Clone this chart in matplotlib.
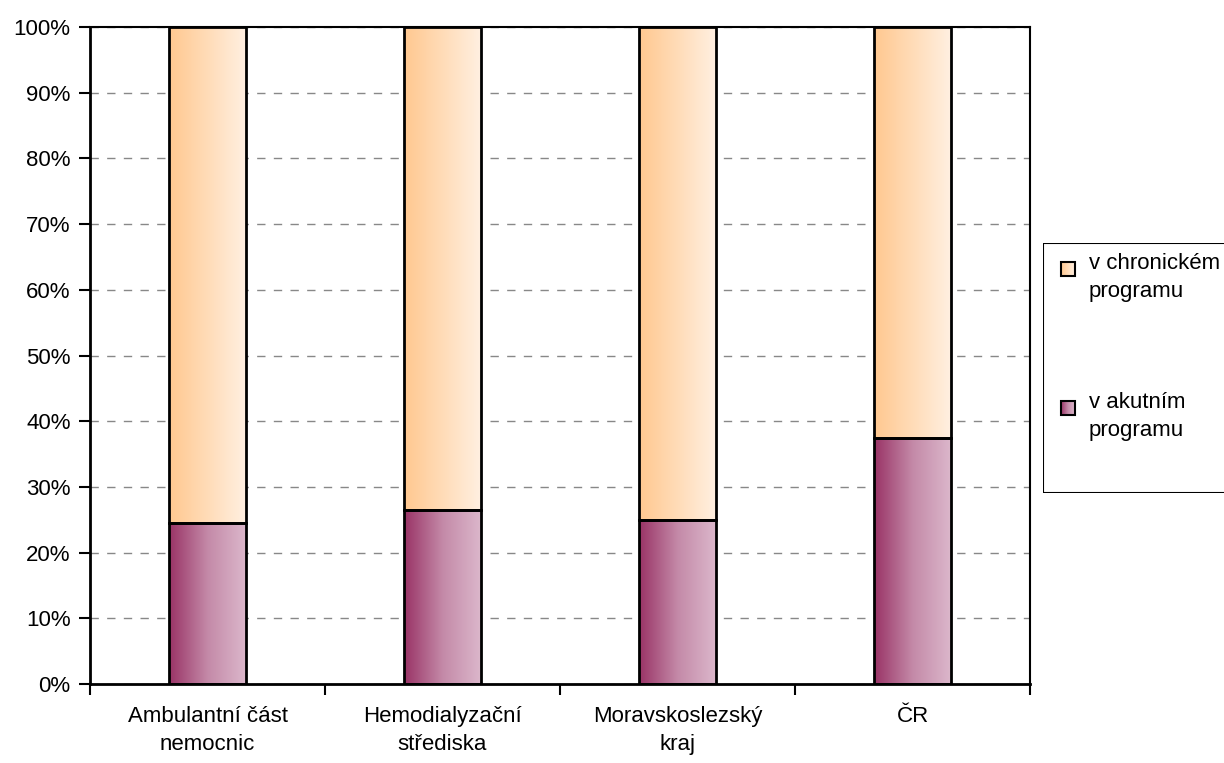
import matplotlib.pyplot as plt
import numpy as np
from matplotlib.colors import LinearSegmentedColormap
from matplotlib.patches import Rectangle

plt.rcParams['font.family'] = ['Liberation Sans', 'DejaVu Sans']

categories = ['Ambulantní část\nnemocnic', 'Hemodialyzační\nstřediska', 'Moravskoslezský\nkraj', 'ČR']
akutni = [24.5, 26.5, 25.0, 37.4]
chronicke = [100 - v for v in akutni]
series_names = ['v chronickém\nprogramu', 'v akutním\nprogramu']

cm_ak = LinearSegmentedColormap.from_list('ak', ['#993366', '#c48aa8', '#dcb8cc'])
cm_ch = LinearSegmentedColormap.from_list('ch', ['#ffc890', '#ffdcb8', '#fff0e2'])
grad = np.linspace(0, 1, 256).reshape(1, -1)

fs = 16

fig = plt.figure(figsize=(12.24, 7.63), dpi=100)
ax = fig.add_axes([90 / 1224, 1 - 684 / 763, 940 / 1224, 657 / 763])

x = np.arange(len(categories))
w = 0.33
for i in range(len(categories)):
    x0 = x[i] - w / 2
    ax.imshow(grad, cmap=cm_ak, extent=[x0, x0 + w, 0, akutni[i]], aspect='auto', zorder=2)
    ax.imshow(grad, cmap=cm_ch, extent=[x0, x0 + w, akutni[i], 100], aspect='auto', zorder=2)
    ax.add_patch(Rectangle((x0, 0), w, akutni[i], fill=False, ec='black', lw=2, zorder=3))
    ax.add_patch(Rectangle((x0, akutni[i]), w, chronicke[i], fill=False, ec='black', lw=2, zorder=3))

ax.set_xlim(-0.5, len(categories) - 0.5)
ax.set_ylim(0, 100)
ax.set_yticks(np.arange(0, 101, 10))
ax.set_yticklabels([f'{v}%' for v in range(0, 101, 10)], fontsize=fs)
ax.set_xticks(np.arange(-0.5, len(categories), 1))
ax.set_xticklabels([])
ax.set_xticks(x, minor=True)
ax.set_xticklabels(categories, minor=True, fontsize=fs, linespacing=1.45)
ax.tick_params(axis='x', which='minor', length=0, pad=16)
ax.tick_params(axis='x', which='major', length=8, width=1.5, direction='out')
ax.tick_params(axis='y', length=8, width=1.5, direction='out', pad=6)
ax.yaxis.grid(True, linestyle=(0, (6, 6)), color='#888888', lw=1, zorder=1)
for s in ax.spines.values():
    s.set_linewidth(1.5)
ax.spines['left'].set_linewidth(2)
ax.spines['bottom'].set_linewidth(2)

# legend
lax = fig.add_axes([1043 / 1224, 1 - 493 / 763, 200 / 1224, 250 / 763])
lax.axis('off')
lax.add_patch(Rectangle((0, 0), 199, 250, fill=False, ec='black', lw=1.5))
for j, (name, cm) in enumerate(zip(series_names, [cm_ch, cm_ak])):
    y0 = 19 + j * 139
    lax.imshow(grad, cmap=cm, extent=[18, 32, y0 + 14, y0], aspect='auto')
    lax.add_patch(Rectangle((18, y0), 14, 14, fill=False, ec='black', lw=1.5))
    lax.text(46, y0 - 9, name, fontsize=fs, va='top', ha='left', linespacing=1.45)
lax.set_xlim(0, 200)
lax.set_ylim(250, 0)

fig.savefig('out.png', dpi=100)
